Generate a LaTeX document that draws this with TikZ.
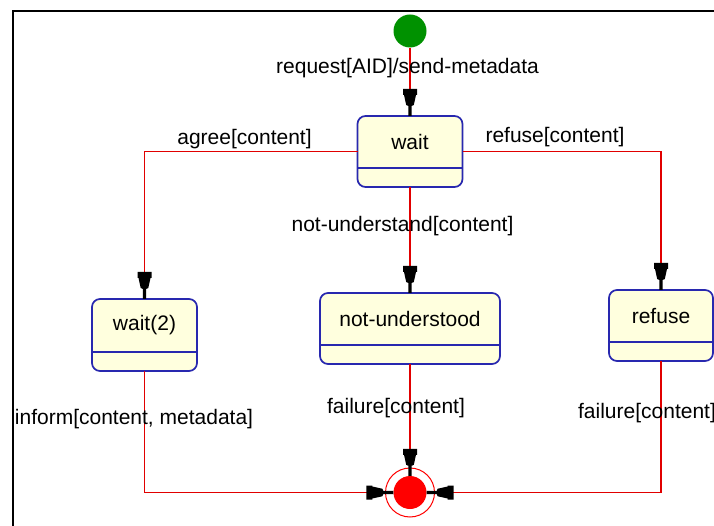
\documentclass[tikz,border=0pt]{standalone}
\usepackage{fontspec}
\setmainfont{Liberation Sans}
\usetikzlibrary{arrows.meta}

\definecolor{statefill}{RGB}{255,255,222}
\definecolor{stateline}{RGB}{40,40,175}
\definecolor{flowred}{RGB}{225,0,0}
\definecolor{startgreen}{RGB}{0,145,0}
\definecolor{endred}{RGB}{255,0,0}

% UML-tool style arrow head: square block, tapering body, thin stem
\pgfdeclarearrow{
  name = umlhead,
  setup code = {
    \pgfarrowssettipend{0pt}
    \pgfarrowssetlineend{-14pt}
    \pgfarrowssetvisualbackend{-27pt}
    \pgfarrowssetbackend{-27pt}
    \pgfarrowsupperhullpoint{-27pt}{7pt}
    \pgfarrowsupperhullpoint{0pt}{1.6pt}
  },
  drawing code = {
    \pgfpathmoveto{\pgfqpoint{0pt}{1.6pt}}
    \pgfpathlineto{\pgfqpoint{-10pt}{1.6pt}}
    \pgfpathlineto{\pgfqpoint{-11pt}{3.8pt}}
    \pgfpathlineto{\pgfqpoint{-21pt}{6pt}}
    \pgfpathlineto{\pgfqpoint{-21pt}{7pt}}
    \pgfpathlineto{\pgfqpoint{-27pt}{7pt}}
    \pgfpathlineto{\pgfqpoint{-27pt}{-7pt}}
    \pgfpathlineto{\pgfqpoint{-21pt}{-7pt}}
    \pgfpathlineto{\pgfqpoint{-21pt}{-6pt}}
    \pgfpathlineto{\pgfqpoint{-11pt}{-3.8pt}}
    \pgfpathlineto{\pgfqpoint{-10pt}{-1.6pt}}
    \pgfpathlineto{\pgfqpoint{0pt}{-1.6pt}}
    \pgfpathclose
    \pgfusepathqfill
  }
}

\begin{document}
\begin{tikzpicture}[x=1pt,y=-1pt,
  statebox/.style={draw=stateline, line width=1.7pt, fill=statefill,
    rounded corners=8pt, outer sep=0pt, inner sep=0pt},
  statetext/.style={font=\fontsize{21}{25}\selectfont, inner sep=0pt},
  divider/.style={draw=stateline, line width=1.7pt},
  flow/.style={draw=flowred, line width=1.7pt, -{umlhead[black]}},
  trans/.style={font=\fontsize{21}{25}\selectfont, inner sep=0pt, text=black},
  frameline/.style={draw=black, line width=2pt}]

\useasboundingbox[fill=white] (0,0) rectangle (714,526);

% outer frame
\draw[frameline] (13,530) -- (13,11) -- (720,11);

% pseudo states
\node[circle, fill=startgreen, minimum size=33pt, inner sep=0pt] (init) at (410,31) {};
\node[circle, fill=endred, minimum size=33pt, inner sep=0pt] (final) at (410,492.5) {};
\node[circle, draw=endred, line width=1pt, minimum size=49pt, inner sep=0pt] (finalring) at (final) {};

% states
\node[statebox, minimum width=105pt, minimum height=71pt] (wait) at (410,151.5) {};
\node[statebox, minimum width=105pt, minimum height=72pt] (wait2) at (144.5,335) {};
\node[statebox, minimum width=180pt, minimum height=71pt] (nu) at (410,328.5) {};
\node[statebox, minimum width=104pt, minimum height=71pt] (refuse) at (661,325.5) {};

\foreach \s in {wait,wait2,nu,refuse}
  \draw[divider] ([yshift=19pt]\s.south west) -- ([yshift=19pt]\s.south east);

\node[statetext] (waitname) at ([yshift=9.5pt]wait.center) {wait};
\node[statetext] (wait2name) at ([yshift=9.5pt]wait2.center) {wait(2)};
\node[statetext] (nuname) at ([yshift=9.5pt]nu.center) {not-understood};
\node[statetext] (refusename) at ([yshift=9.5pt]refuse.center) {refuse};

% transitions
\draw[flow] (init) -- (wait);
\draw[flow] (wait.west) -| (wait2.north);
\draw[flow] (wait.east) -| (refuse.north);
\draw[flow] (wait) -- (nu);
\draw[flow] (wait2.south) |- (final);
\draw[flow] (nu) -- (final);
\draw[flow] (refuse.south) |- (final);

% transition labels
\node[trans] (lreq) at (407.5,68) {request[AID]/send-metadata};
\node[trans] (lagree) at (244.5,139) {agree[content]};
\node[trans] (lrefuse) at (555,137) {refuse[content]};
\node[trans] (lnot) at (402.5,226) {not-understand[content]};
\node[trans] (linform) at (134,419) {inform[content, metadata]};
\node[trans] (lfail) at (396,408) {failure[content]};
\node[trans] (lfail2) at (647,413) {failure[content]};
\end{tikzpicture}
\end{document}
